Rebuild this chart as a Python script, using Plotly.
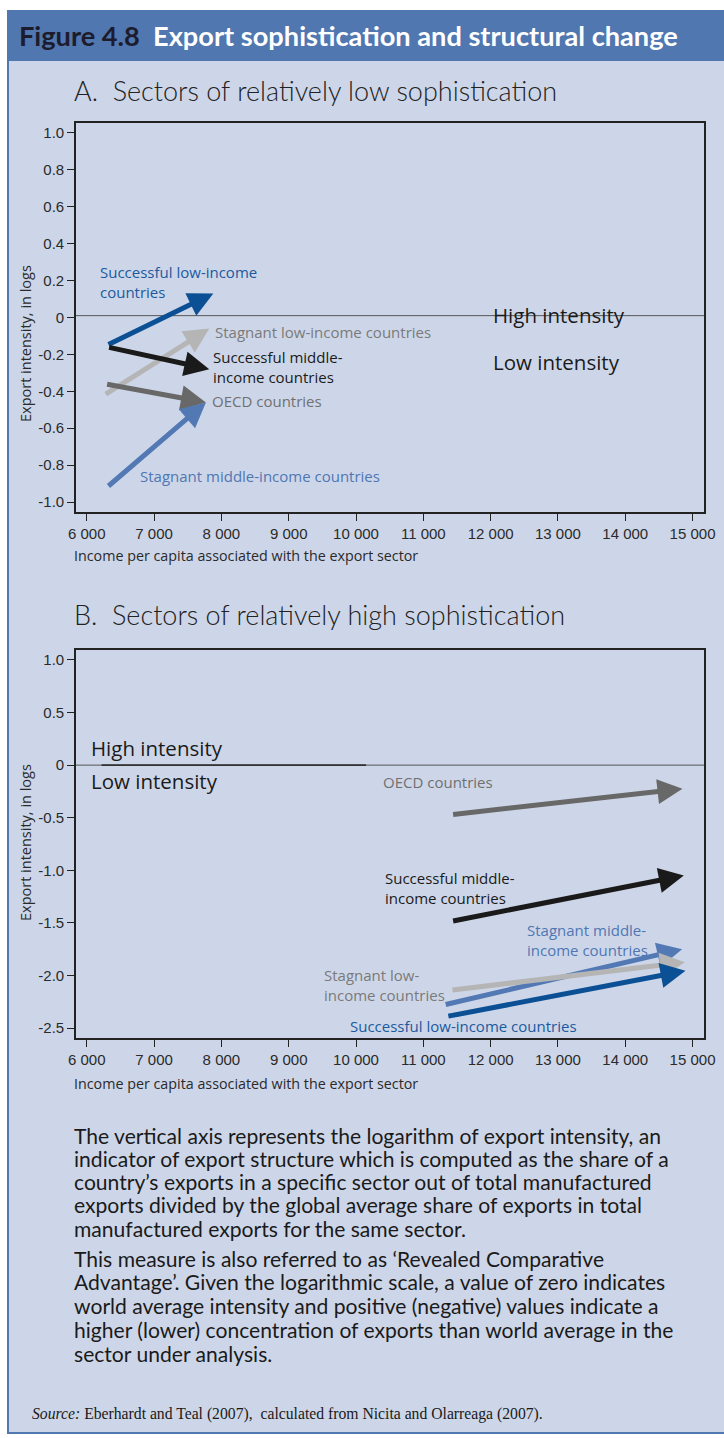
import plotly.graph_objects as go

W, H = 724, 1438

# ---------------- Data ----------------
# Panel A: sectors of relatively low sophistication
A_labels = ["Successful low-income<br>countries", "Stagnant low-income countries",
            "Successful middle-<br>income countries", "OECD countries",
            "Stagnant middle-income countries"]
A_x0 = [6300, 6260, 6310, 6280, 6300]
A_y0 = [-0.15, -0.42, -0.16, -0.36, -0.92]
A_x1 = [7880, 7820, 7820, 7770, 7770]
A_y1 = [0.13, -0.06, -0.28, -0.46, -0.46]
A_label_x = [6170, 7880, 7850, 7835, 6765]
A_label_y = [0.19, -0.077, -0.27, -0.453, -0.86]

# Panel B: sectors of relatively high sophistication
B_labels = ["OECD countries", "Successful middle-<br>income countries",
            "Stagnant middle-<br>income countries", "Stagnant low-<br>income countries",
            "Successful low-income countries"]
B_x0 = [11420, 11420, 11310, 11410, 11350]
B_y0 = [-0.47, -1.485, -2.28, -2.14, -2.39]
B_x1 = [14850, 14870, 14845, 14885, 14895]
B_y1 = [-0.225, -1.05, -1.75, -1.875, -1.955]
B_label_x = [10375, 10405, 12515, 9500, 9875]
B_label_y = [-0.16, -1.165, -1.66, -2.09, -2.48]

x_tickvals = [6000, 7000, 8000, 9000, 10000, 11000, 12000, 13000, 14000, 15000]
x_ticktext = ["6 000", "7 000", "8 000", "9 000", "10 000", "11 000", "12 000",
              "13 000", "14 000", "15 000"]
A_ytickvals = [1.0, 0.8, 0.6, 0.4, 0.2, 0, -0.2, -0.4, -0.6, -0.8, -1.0]
A_yticktext = ["1.0", "0.8", "0.6", "0.4", "0.2", "0", "-0.2", "-0.4", "-0.6", "-0.8", "-1.0"]
B_ytickvals = [1.0, 0.5, 0, -0.5, -1.0, -1.5, -2.0, -2.5]
B_yticktext = ["1.0", "0.5", "0", "-0.5", "-1.0", "-1.5", "-2.0", "-2.5"]

para1_lines = ["The vertical axis represents the logarithm of export intensity, an",
               "indicator of export structure which is computed as the share of a",
               "country’s exports in a specific sector out of total manufactured",
               "exports divided by the global average share of exports in total",
               "manufactured exports for the same sector."]
para2_lines = ["This measure is also referred to as ‘Revealed Comparative",
               "Advantage’. Given the logarithmic scale, a value of zero indicates",
               "world average intensity and positive (negative) values indicate a",
               "higher (lower) concentration of exports than world average in the",
               "sector under analysis."]

# ---------------- Styles ----------------
C_DKBLUE = "#0b4f95"
C_MDBLUE = "#5379b5"
C_LTGRAY = "#b5b5b5"
C_DKGRAY = "#686868"
C_BLACK = "#1a1a1a"
A_colors = [C_DKBLUE, C_LTGRAY, C_BLACK, C_DKGRAY, C_MDBLUE]
A_text_colors = ["#1a5a9f", "#7a7a7a", "#1a1a1a", "#707070", "#4f76b3"]
B_colors = [C_DKGRAY, C_BLACK, C_MDBLUE, C_LTGRAY, C_DKBLUE]
B_text_colors = ["#707070", "#1a1a1a", "#4f76b3", "#7a7a7a", "#1a5a9f"]

BG = "#cdd6e8"
HEADER = "#5077b0"
LABEL_FONT = "Open Sans, Noto Sans, sans-serif"
TICK_FONT = "Liberation Sans, Arial, sans-serif"
BODY_FONT = "Lato, Noto Sans, sans-serif"


def px(x):
    return x / W


def py(y):
    return 1 - y / H


fig = go.Figure()

fig.add_trace(go.Scatter(x=[6000], y=[0], xaxis="x", yaxis="y", mode="markers",
                         marker=dict(opacity=0), hoverinfo="skip", showlegend=False))
fig.add_trace(go.Scatter(x=[6000], y=[0], xaxis="x2", yaxis="y2", mode="markers",
                         marker=dict(opacity=0), hoverinfo="skip", showlegend=False))

axis_common = dict(showgrid=False, zeroline=False, showline=True, mirror=True,
                   automargin=False,
                   linecolor="#222222", linewidth=1.6, ticks="outside", ticklen=7,
                   tickwidth=1, tickcolor="#222222",
                   tickfont=dict(family=TICK_FONT, size=15, color="#2a2a2a"))

fig.update_layout(
    width=W, height=H, autosize=False,
    margin=dict(l=0, r=0, t=0, b=0, pad=0),
    paper_bgcolor="white",
    plot_bgcolor="rgba(0,0,0,0)",
    showlegend=False,
    hovermode=False,
    xaxis=dict(domain=[px(76), px(704)], range=[5840, 15170], anchor="y",
               tickvals=x_tickvals, ticktext=x_ticktext, **axis_common),
    yaxis=dict(domain=[py(512), py(123)], range=[-1.054, 1.054], anchor="x",
               tickvals=A_ytickvals, ticktext=A_yticktext, **axis_common),
    xaxis2=dict(domain=[px(76), px(704)], range=[5840, 15170], anchor="y2",
                tickvals=x_tickvals, ticktext=x_ticktext, **axis_common),
    yaxis2=dict(domain=[py(1038), py(650)], range=[-2.595, 1.095], anchor="x2",
                tickvals=B_ytickvals, ticktext=B_yticktext, **axis_common),
)

shapes = []
shapes.append(dict(type="rect", xref="paper", yref="paper", x0=px(8), x1=px(730),
                   y0=py(1433), y1=py(11), fillcolor=BG,
                   line=dict(color=HEADER, width=2), layer="below"))
shapes.append(dict(type="rect", xref="paper", yref="paper", x0=px(8), x1=px(730),
                   y0=py(61), y1=py(11), fillcolor=HEADER, line=dict(width=0), layer="below"))
shapes.append(dict(type="line", xref="x", yref="y", x0=5840, x1=15170, y0=0.01, y1=0.01,
                   line=dict(color="#555555", width=1)))
shapes.append(dict(type="line", xref="x2", yref="y2", x0=5840, x1=15170, y0=0, y1=0,
                   line=dict(color="#555555", width=1)))
shapes.append(dict(type="line", xref="x2", yref="y2", x0=6220, x1=10150, y0=0, y1=0,
                   line=dict(color="#333333", width=1.6)))

annotations = []


def arrow(xr, yr, x0, y0, x1, y1, color):
    return dict(x=x1, y=y1, ax=x0, ay=y0, xref=xr, yref=yr, axref=xr, ayref=yr,
                text="", showarrow=True, arrowhead=2, arrowsize=1.0, arrowwidth=5,
                arrowcolor=color, standoff=0, startstandoff=0)


def label(xr, yr, x, y, text, color, size=15, family=LABEL_FONT):
    return dict(x=x, y=y, xref=xr, yref=yr, text=text, showarrow=False,
                xanchor="left", yanchor="middle", align="left",
                font=dict(family=family, size=size, color=color))


for i in range(len(A_labels)):
    annotations.append(arrow("x", "y", A_x0[i], A_y0[i], A_x1[i], A_y1[i], A_colors[i]))
    annotations.append(label("x", "y", A_label_x[i], A_label_y[i], A_labels[i], A_text_colors[i]))
for i in range(len(B_labels)):
    annotations.append(arrow("x2", "y2", B_x0[i], B_y0[i], B_x1[i], B_y1[i], B_colors[i]))
    annotations.append(label("x2", "y2", B_label_x[i], B_label_y[i], B_labels[i], B_text_colors[i]))

annotations.append(label("x", "y", 12010, 0.015, "High intensity", "#1a1a1a", size=20.5))
annotations.append(label("x", "y", 12010, -0.24, "Low intensity", "#1a1a1a", size=20.5))
annotations.append(label("x2", "y2", 6040, 0.16, "High intensity", "#1a1a1a", size=20.5))
annotations.append(label("x2", "y2", 6040, -0.152, "Low intensity", "#1a1a1a", size=20.5))


def ptext(x, y, text, size, color, family, xanchor="left", yanchor="middle", **kw):
    return dict(x=px(x), y=py(y), xref="paper", yref="paper", text=text, showarrow=False,
                xanchor=xanchor, yanchor=yanchor, align="left",
                font=dict(family=family, size=size, color=color, **kw))


annotations.append(ptext(17, 36, "<b><span style='color:#1c1c2c'>Figure 4.8</span>  Export sophistication and structural change</b>",
                         27.2, "white", BODY_FONT))
annotations.append(ptext(72, 90, "A.  Sectors of relatively low sophistication", 27, "#222222",
                         BODY_FONT, weight=300))
annotations.append(ptext(72, 614, "B.  Sectors of relatively high sophistication", 27, "#222222",
                         BODY_FONT, weight=300))
for yc in (344, 843):
    annotations.append(dict(x=px(25), y=py(yc), xref="paper", yref="paper",
                            text="Export intensity, in logs", textangle=-90, showarrow=False,
                            xanchor="center", yanchor="middle",
                            font=dict(family=LABEL_FONT, size=14.5, color="#2a2a2a")))
for yc in (555, 1083):
    annotations.append(ptext(72, yc, "Income per capita associated with the export sector",
                             14.3, "#2a2a2a", LABEL_FONT))

para1_y = [1135, 1158, 1181, 1204, 1228]
para2_y = [1258, 1281, 1305, 1329, 1353]
for t, yy in zip(para1_lines + para2_lines, para1_y + para2_y):
    annotations.append(ptext(72, yy, t, 21.1, "#1a1a1a", BODY_FONT))

annotations.append(ptext(30, 1414,
                         "<i>Source:</i> Eberhardt and Teal (2007),  calculated from Nicita and Olarreaga (2007).",
                         15.7, "#1a1a1a", "Liberation Serif, Times New Roman, serif"))

fig.update_layout(shapes=shapes, annotations=annotations)
fig.write_html("out.html", config={"displayModeBar": False, "responsive": False},
               post_script="document.body.style.margin='0px';document.body.style.overflow='hidden';")
